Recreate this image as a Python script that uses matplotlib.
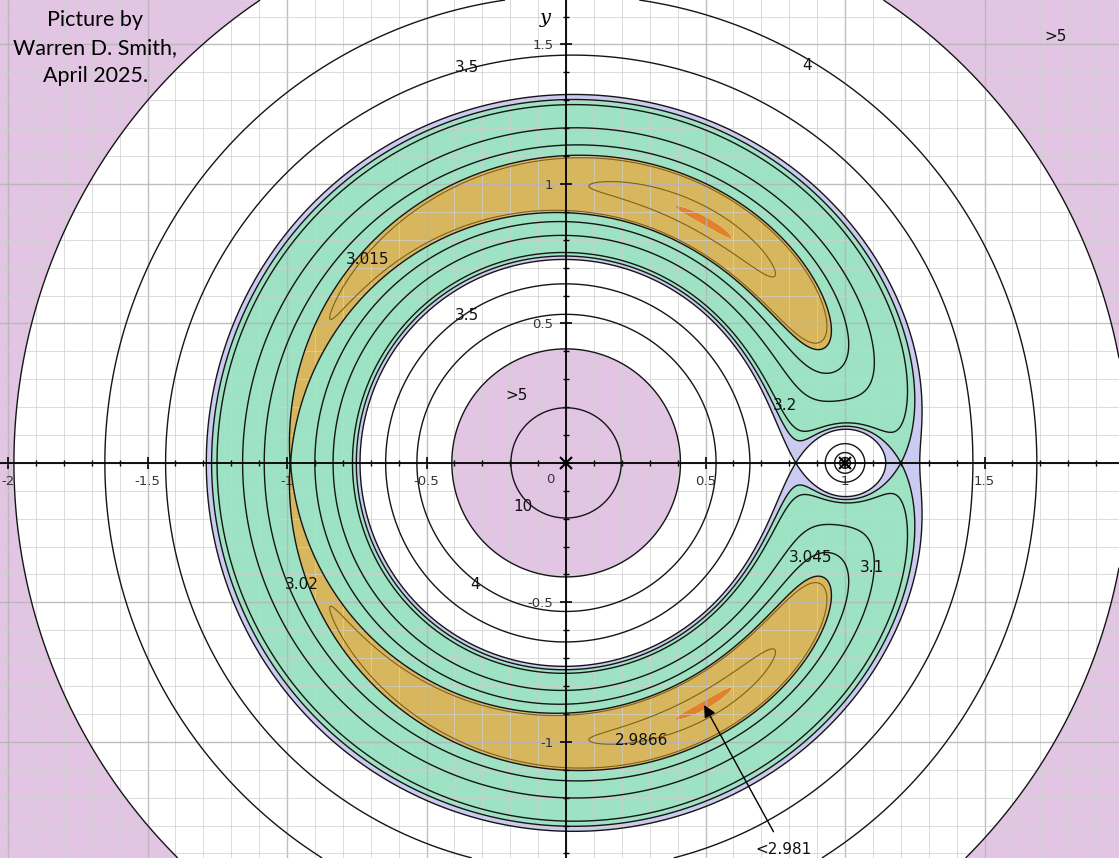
import numpy as np
import matplotlib
matplotlib.use("Agg")
import matplotlib.pyplot as plt
from matplotlib.ticker import MultipleLocator, FuncFormatter

# ---------------- data ----------------
MU = 0.02                      # mass ratio of the small body at (1, 0)
LINE_LEVELS = [3.02, 3.045, 3.1, 3.2, 3.5, 4, 5, 10]
GOLD_LINE_LEVELS = [2.9866, 3.015]
FILL_LEVELS_LOW = [2.981, 3.02]           # orange | gold | green (up to L2)
FILL_LEVEL_HIGH = 5                        # white | pink
FILL_COLORS = ['#e3802a', '#d8b65e', '#9ee2c4', '#cbcaf0', '#ffffff', '#e2c5e3']

LABEL_TEXT = ['3.5', '4', '>5', '3.015', '3.5', '>5', '10', '3.2', '3.045',
              '3.1', '3.02', '4', '2.9866']
LABEL_X = [-0.355, 0.864, 1.753, -0.713, -0.355, -0.179, -0.154, 0.785, 0.875,
           1.097, -0.946, -0.326, 0.269]
LABEL_Y = [1.416, 1.423, 1.530, 0.728, 0.530, 0.240, -0.158, 0.204, -0.340,
           -0.376, -0.437, -0.437, -0.996]

ARROW_TEXT = '<2.981'
ARROW_TEXT_XY = (0.778, -1.385)
ARROW_TIP_XY = (0.495, -0.868)

MASS_X = [0.0, 1.0]
MASS_Y = [0.0, 0.0]

XLIM = (-2.029, 1.982)
YLIM = (-1.416, 1.659)


def jacobi(x, y):
    r1 = np.hypot(x, y)
    r2 = np.hypot(x - 1.0, y)
    return (x - MU) ** 2 + y ** 2 + 2 * (1 - MU) / r1 + 2 * MU / r2


# collinear saddle levels (L1, L2)
xs1 = np.linspace(0.55, 0.99, 400001)
CL1 = jacobi(xs1, 0.0).min()
xs2 = np.linspace(1.01, 1.6, 400001)
CL2 = jacobi(xs2, 0.0).min()

# ---------------- grid of values ----------------
gx = np.linspace(XLIM[0], XLIM[1], 2200)
gy = np.linspace(YLIM[0], YLIM[1], 1700)
X, Y = np.meshgrid(gx, gy)
with np.errstate(divide='ignore'):
    Z = jacobi(X, Y)
Z = np.nan_to_num(Z, nan=200.0, posinf=200.0)
Z = np.minimum(Z, 200.0)

fig = plt.figure(figsize=(11.19, 8.58), dpi=100)
ax = fig.add_axes([0, 0, 1, 1])
ax.set_xlim(*XLIM)
ax.set_ylim(*YLIM)
ax.set_aspect('equal')

fill_levels = [Z.min() - 1] + FILL_LEVELS_LOW + [CL2, CL1, FILL_LEVEL_HIGH, 201]
ax.contourf(X, Y, Z, levels=fill_levels, colors=FILL_COLORS, zorder=0.1,
            antialiased=True)

line_levels = sorted(LINE_LEVELS + [CL2, CL1])
ax.contour(X, Y, Z, levels=line_levels, colors='#151515', linewidths=1.0,
           zorder=2)
ax.contour(X, Y, Z, levels=GOLD_LINE_LEVELS, colors='#80601a',
           linewidths=0.8, zorder=2)

# grid
ax.set_axisbelow(True)
ax.xaxis.set_major_locator(MultipleLocator(0.5))
ax.yaxis.set_major_locator(MultipleLocator(0.5))
ax.xaxis.set_minor_locator(MultipleLocator(0.1))
ax.yaxis.set_minor_locator(MultipleLocator(0.1))
ax.grid(which='major', color='#b4b4b4', linewidth=1.0, alpha=0.85)
ax.grid(which='minor', color='#cfcfcf', linewidth=0.7, alpha=0.75)

# axes through origin
for s in ['top', 'right']:
    ax.spines[s].set_visible(False)
for s in ['left', 'bottom']:
    ax.spines[s].set_position('zero')
    ax.spines[s].set_color('black')
    ax.spines[s].set_linewidth(1.3)
    ax.spines[s].set_zorder(3)


def fmt(v, pos):
    if abs(v) < 1e-9:
        return ''
    return '%g' % v


ax.xaxis.set_major_formatter(FuncFormatter(fmt))
ax.yaxis.set_major_formatter(FuncFormatter(fmt))
ax.tick_params(which='major', direction='inout', length=8, width=1.2,
               labelsize=9.5, pad=5, colors='black', labelcolor='#333333')
ax.tick_params(which='minor', direction='inout', length=5, width=1.0,
               colors='black')
ax.text(-0.055, -0.035, '0', fontsize=9.5, color='#333333', ha='center',
        va='top')
ax.text(-0.075, 1.595, 'y', fontsize=14, family='DejaVu Serif',
        style='italic', ha='center', va='center')

# masses
ax.plot(MASS_X, MASS_Y, linestyle='none', marker='x', color='black',
        markersize=9, markeredgewidth=1.5, zorder=4)

# labels
for t, lx, ly in zip(LABEL_TEXT, LABEL_X, LABEL_Y):
    ax.text(lx, ly, t, fontsize=11, ha='center', va='center', color='#111111',
            zorder=5)

ax.annotate(ARROW_TEXT, xy=ARROW_TIP_XY, xytext=ARROW_TEXT_XY,
            fontsize=11, ha='center', va='center', color='#111111',
            arrowprops=dict(arrowstyle='-|>', color='black', lw=1.0,
                            mutation_scale=18, shrinkA=6, shrinkB=0),
            zorder=5)

fig.text(0.085, 0.944, 'Picture by\nWarren D. Smith,\nApril 2025.',
         family='Lato', fontsize=15.5, ha='center', va='center',
         linespacing=1.5, color='black')

fig.savefig('out.png', dpi=100)
